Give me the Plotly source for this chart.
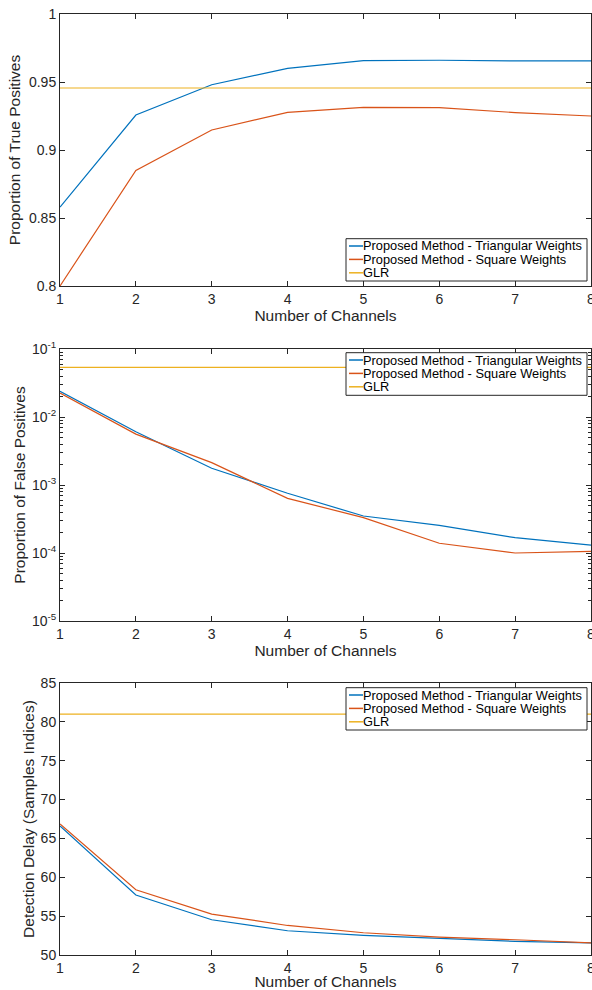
import plotly.graph_objects as go
from plotly.subplots import make_subplots

# ---------------- data ----------------
channels = [1, 2, 3, 4, 5, 6, 7, 8]

tp_triangular = [0.858, 0.9257, 0.948, 0.960, 0.9657, 0.966, 0.9655, 0.9655]
tp_square = [0.800, 0.885, 0.9147, 0.9277, 0.9314, 0.9312, 0.9275, 0.925]
tp_glr = 0.9456

fp_triangular = [0.0239, 0.00608, 0.00176, 7.55e-4, 3.5e-4, 2.55e-4, 1.68e-4, 1.31e-4]
fp_square = [0.0225, 0.0056, 0.00213, 6.37e-4, 3.31e-4, 1.39e-4, 1.0e-4, 1.06e-4]
fp_glr = 0.0537

dd_triangular = [66.6, 57.72, 54.54, 53.12, 52.53, 52.1, 51.75, 51.57]
dd_square = [66.87, 58.4, 55.27, 53.8, 52.86, 52.31, 51.96, 51.57]
dd_glr = 81.0

series_names = ["Proposed Method - Triangular Weights",
                "Proposed Method - Square Weights",
                "GLR"]
colors = ["#0072BD", "#D95319", "#EDB120"]

x_title = "Number of Channels"
y_titles = ["Proportion of True Positives",
            "Proportion of False Positives",
            "Detection Delay (Samples Indices)"]

tp_tickvals = [0.8, 0.85, 0.9, 0.95, 1.0]
tp_ticktext = ["0.8", "0.85", "0.9", "0.95", "1"]
fp_tickvals = [1e-5, 1e-4, 1e-3, 1e-2, 1e-1]
fp_ticktext = ["10<sup>-5</sup>", "10<sup>-4</sup>", "10<sup>-3</sup>",
               "10<sup>-2</sup>", "10<sup>-1</sup>"]
fp_minor = [k * 10.0 ** e for e in range(-5, -1) for k in range(2, 10)]
dd_tickvals = [50, 55, 60, 65, 70, 75, 80, 85]

# ---------------- layout constants ----------------
W, H = 592, 990
ML, MR, MT, MB = 60, 1, 14, 35
PW, PH = W - ML - MR, H - MT - MB

FONT = "Liberation Sans, Arial, Helvetica, sans-serif"
AX = "#262626"


def px_x(px):
    return (px - ML) / PW


def px_y(py):
    return (H - MB - py) / PH


fig = make_subplots(rows=3, cols=1)

panels = [
    (tp_triangular, tp_square, tp_glr),
    (fp_triangular, fp_square, fp_glr),
    (dd_triangular, dd_square, dd_glr),
]

for r, (tri, sq, glr) in enumerate(panels, start=1):
    ys = [tri, sq, [glr] * len(channels)]
    for name, y, c in zip(series_names, ys, colors):
        fig.add_trace(go.Scatter(x=channels, y=y, mode="lines", name=name,
                                 line=dict(color=c, width=1.2),
                                 showlegend=False, hoverinfo="x+y+name"),
                      row=r, col=1)

common_axis = dict(showline=True, linecolor=AX, linewidth=1, mirror="ticks",
                   ticks="inside", ticklen=5, tickcolor=AX, tickwidth=1,
                   showgrid=False, zeroline=False, ticklabeloverflow="allow",
                   automargin=False,
                   tickfont=dict(family=FONT, size=14, color=AX))

domains = [[px_y(286), 1.0], [px_y(621), px_y(349)], [0.0, px_y(683)]]

for r in range(1, 4):
    xa = "xaxis" if r == 1 else f"xaxis{r}"
    ya = "yaxis" if r == 1 else f"yaxis{r}"
    fig.layout[xa].update(common_axis)
    fig.layout[xa].update(range=[1, 8], tickmode="array", tickvals=channels,
                          title=dict(text=x_title, standoff=2,
                                     font=dict(family=FONT, size=15.5, color=AX)))
    fig.layout[ya].update(common_axis)
    fig.layout[ya].update(domain=domains[r - 1],
                          title=dict(text=y_titles[r - 1],
                                     standoff=4 if r == 1 else 2,
                                     font=dict(family=FONT, size=15.5, color=AX)))

fig.update_layout(
    yaxis=dict(range=[0.8, 1.0], tickmode="array",
               tickvals=tp_tickvals, ticktext=tp_ticktext),
    yaxis2=dict(type="log", range=[-5, -1], tickmode="array",
                tickvals=fp_tickvals, ticktext=fp_ticktext,
                minor=dict(ticks="inside", ticklen=3, tickcolor=AX,
                           tickmode="array", tickvals=fp_minor, showgrid=False)),
    yaxis3=dict(range=[50, 85], tickmode="array", tickvals=dd_tickvals),
    # right-side mirror of the log axis (to carry its minor ticks)
    yaxis4=dict(type="log", range=[-5, -1], overlaying="y2", anchor="x2",
                side="right", showline=False, showgrid=False, zeroline=False,
                showticklabels=False, ticks="inside", ticklen=5, tickcolor=AX,
                automargin=False,
                tickmode="array", tickvals=fp_tickvals,
                minor=dict(ticks="inside", ticklen=3, tickcolor=AX,
                           tickmode="array", tickvals=fp_minor, showgrid=False)),
)
fig.add_trace(go.Scatter(x=[None], y=[None], xaxis="x2", yaxis="y4",
                         showlegend=False, hoverinfo="skip"))

# ---------------- legends (MATLAB-style compact boxes) ----------------
legend_boxes = [  # (top px, bottom px)
    (238.7, 281.0),
    (352.7, 395.3),
    (687.7, 730.0),
]
box_left, box_right = 346, 587
line_x0, line_x1, text_x = 349, 363, 362
row_step = 13.4

for top, bot in legend_boxes:
    fig.add_shape(type="rect", xref="paper", yref="paper",
                  x0=px_x(box_left), x1=px_x(box_right),
                  y0=px_y(bot), y1=px_y(top),
                  fillcolor="white", line=dict(color=AX, width=1), layer="above")
    for i, (name, c) in enumerate(zip(series_names, colors)):
        yc = top + 7.3 + i * row_step
        fig.add_shape(type="line", xref="paper", yref="paper",
                      x0=px_x(line_x0), x1=px_x(line_x1),
                      y0=px_y(yc), y1=px_y(yc),
                      line=dict(color=c, width=1.5), layer="above")
        fig.add_annotation(text=name, xref="paper", yref="paper",
                           x=px_x(text_x), y=px_y(yc), xanchor="left",
                           yanchor="middle", showarrow=False, borderpad=0,
                           font=dict(family=FONT, size=12.8, color="black"))

fig.update_layout(width=W, height=H,
                  margin=dict(l=ML, r=MR, t=MT, b=MB, autoexpand=False),
                  paper_bgcolor="white", plot_bgcolor="white",
                  showlegend=False,
                  font=dict(family=FONT, color=AX))

fig.write_html("out.html")
